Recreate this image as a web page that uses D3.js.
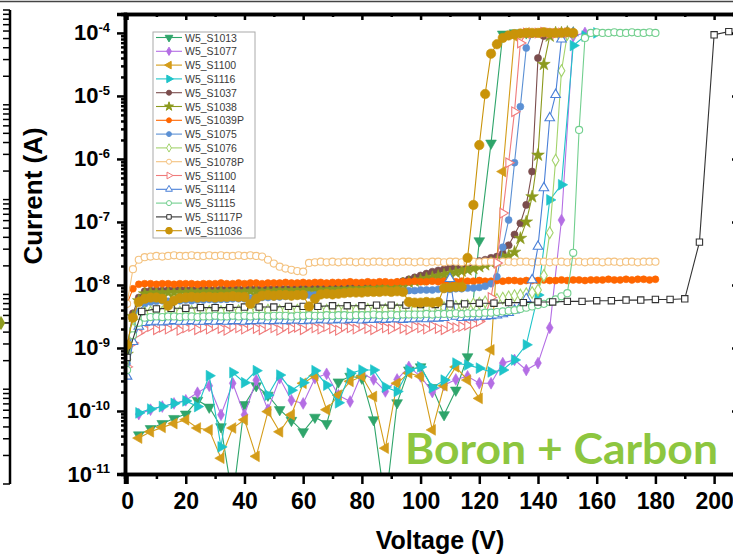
<!DOCTYPE html>
<html>
<head>
<meta charset="utf-8">
<script src="https://cdn.jsdelivr.net/npm/d3@7"></script>
<style>
  body { margin: 0; background: #fff; }
  svg { display: block; }
</style>
</head>
<body>
<svg id="chart" width="733" height="556"></svg>
<script>
// voltage sweeps (V)
var v2 = [0,2,4,6,8,10,12,14,16,18,20,22,24,26,28,30,32,34,36,38,40,42,44,46,48,50,52,54,56,58,
  60,62,64,66,68,70,72,74,76,78,80,82,84,86,88,90,92,94,96,98,100,102,104,106,108,110,112,114,116,118,
  120,122,124,126,128,130,132,134,136,138,140,142,144,146,148,150,152,154,156,158,160,162,164,166,168,170,
  172,174,176,178,180];
var v4 = [4,8,12,16,20,24,28,32,36,40,44,48,52,56,60,64,68,72,76,80,84,88,92,96,100,104,108,112,116,120,
  124,128,132,136,140,144,148,152,156,160];
var v5 = [0,5,10,15,20,25,30,35,40,45,50,55,60,65,70,75,80,85,90,95,100,105,110,115,120,125,130,135,140,145,
  150,155,160,165,170,175,180,185,190,195,200,205];

// currents, log10(A)
var s1013 = [-10.38,-10.28,-10.20,-10.12,-10.05,-9.83,-9.94,-10.25,-11.40,-9.90,
  -9.60,-9.75,-9.98,-10.15,-10.33,-10.10,-10.20,-9.54,-9.45,-9.48,
  -10.14,-11.50,-9.87,-9.35,-9.30,-9.63,-10.06,-9.67,-9.14,-7.30,
  -5.75,-4.02,-4.00,-4.00];
var s1077 = [-10.05,-9.98,-9.93,-9.88,-9.83,-9.71,-9.60,-10.06,-9.56,-10.06,
  -9.51,-9.98,-9.48,-9.83,-9.88,-9.48,-9.41,-9.75,-9.85,-9.40,
  -9.50,-9.69,-9.50,-9.30,-9.45,-9.70,-9.59,-9.50,-9.45,-9.56,
  -9.56,-9.24,-9.19,-9.35,-9.24,-8.68,-6.97,-4.05,-4.00];
var s1100 = [-10.43,-10.33,-10.26,-10.20,-10.14,-10.27,-10.30,-10.75,-10.27,-10.14,
  -10.72,-10.01,-10.33,-10.06,-9.56,-9.44,-9.98,-9.75,-9.53,-9.45,
  -9.77,-10.59,-9.56,-9.40,-9.45,-10.30,-9.60,-9.30,-9.51,-9.80,
  -9.03,-6.20,-4.05,-4.00,-4.00];
var s1116 = [-10.03,-9.97,-9.93,-9.88,-9.84,-9.93,-9.44,-10.57,-9.39,-9.55,
  -9.36,-9.75,-9.43,-9.67,-9.55,-9.36,-9.59,-9.87,-9.40,-9.35,
  -9.35,-9.62,-9.69,-9.35,-9.30,-9.63,-9.51,-9.24,-9.27,-9.32,
  -9.38,-9.35,-9.19,-8.95,-8.16,-6.65,-6.41,-4.20,-4.05,-4.00];
var s1037 = [-9.00,-8.45,-8.20,-8.10,-8.09,-8.08,-8.09,-8.08,-8.08,-8.07,
  -8.08,-8.07,-8.08,-8.07,-8.07,-8.08,-8.07,-8.07,-8.06,-8.07,
  -8.07,-8.06,-8.07,-8.06,-8.06,-8.06,-8.05,-8.06,-8.05,-8.05,
  -8.05,-8.05,-8.04,-8.05,-8.04,-8.04,-8.03,-8.04,-8.03,-8.03,
  -8.02,-8.02,-8.01,-8.01,-8.00,-7.99,-7.97,-7.94,-7.91,-7.88,
  -7.85,-7.82,-7.79,-7.77,-7.75,-7.73,-7.71,-7.69,-7.67,-7.65,
  -7.62,-7.60,-7.57,-7.55,-7.50,-7.37,-7.20,-7.02,-6.73,-6.20,
  -4.40,-4.05,-4.00,-4.00,-3.99,-4.00];
var s1038 = [-9.10,-8.50,-8.25,-8.14,-8.13,-8.12,-8.13,-8.12,-8.12,-8.12,
  -8.12,-8.11,-8.12,-8.11,-8.11,-8.12,-8.11,-8.11,-8.10,-8.11,
  -8.11,-8.10,-8.10,-8.11,-8.10,-8.10,-8.09,-8.10,-8.09,-8.09,
  -8.09,-8.08,-8.09,-8.08,-8.08,-8.07,-8.08,-8.07,-8.07,-8.06,
  -8.06,-8.05,-8.05,-8.04,-8.03,-8.02,-8.00,-7.98,-7.96,-7.94,
  -7.92,-7.90,-7.88,-7.86,-7.84,-7.82,-7.80,-7.78,-7.76,-7.74,
  -7.71,-7.68,-7.65,-7.62,-7.58,-7.54,-7.48,-7.26,-7.00,-6.60,
  -5.94,-4.50,-4.05,-4.00,-4.00,-3.99];
var s1039p = [-8.30,-8.06,-7.99,-7.98,-7.98,-7.99,-7.98,-7.98,-7.99,-7.98,
  -7.98,-7.98,-7.99,-7.98,-7.98,-7.98,-7.97,-7.98,-7.98,-7.97,
  -7.98,-7.97,-7.97,-7.98,-7.97,-7.97,-7.97,-7.96,-7.97,-7.97,
  -7.96,-7.97,-7.96,-7.96,-7.97,-7.96,-7.96,-7.96,-7.95,-7.96,
  -7.96,-7.95,-7.96,-7.95,-7.95,-7.96,-7.95,-7.95,-7.95,-7.94,
  -7.95,-7.95,-7.94,-7.95,-7.94,-7.94,-7.95,-7.94,-7.94,-7.94,
  -7.93,-7.94,-7.94,-7.93,-7.94,-7.93,-7.93,-7.94,-7.93,-7.93,
  -7.93,-7.92,-7.93,-7.93,-7.92,-7.93,-7.92,-7.92,-7.93,-7.92,
  -7.92,-7.92,-7.91,-7.92,-7.92,-7.91,-7.92,-7.91,-7.91,-7.92,
  -7.91];
var s1075 = [-9.25,-8.70,-8.42,-8.30,-8.27,-8.26,-8.25,-8.26,-8.25,-8.25,
  -8.24,-8.25,-8.24,-8.24,-8.23,-8.24,-8.23,-8.23,-8.22,-8.22,
  -8.22,-8.21,-8.21,-8.20,-8.20,-8.19,-8.19,-8.18,-8.18,-8.17,
  -8.17,-8.16,-8.16,-8.15,-8.15,-8.14,-8.14,-8.13,-8.13,-8.12,
  -8.12,-8.12,-8.11,-8.11,-8.10,-8.10,-8.10,-8.09,-8.09,-8.09,
  -8.08,-8.08,-8.08,-8.07,-8.07,-8.07,-8.06,-8.06,-8.05,-8.05,
  -8.04,-8.02,-7.98,-7.87,-7.40,-6.97,-6.06,-5.17,-4.24,-4.02,
  -4.00,-4.00,-3.99,-4.00,-4.00,-4.00];
var s1076 = [-9.20,-8.70,-8.50,-8.44,-8.43,-8.42,-8.43,-8.42,-8.42,-8.43,
  -8.42,-8.42,-8.41,-8.42,-8.42,-8.41,-8.42,-8.41,-8.42,-8.41,
  -8.41,-8.42,-8.41,-8.41,-8.40,-8.41,-8.41,-8.40,-8.41,-8.40,
  -8.40,-8.40,-8.41,-8.40,-8.40,-8.39,-8.40,-8.40,-8.39,-8.40,
  -8.39,-8.39,-8.40,-8.39,-8.39,-8.38,-8.39,-8.38,-8.38,-8.38,
  -8.38,-8.37,-8.37,-8.36,-8.36,-8.35,-8.34,-8.33,-8.32,-8.30,
  -8.29,-8.27,-8.25,-8.23,-8.21,-8.19,-8.17,-8.16,-8.14,-8.12,
  -8.08,-7.85,-7.17,-6.02,-4.60,-4.02,-4.00];
var s1078p = [-8.30,-7.75,-7.60,-7.56,-7.55,-7.54,-7.55,-7.54,-7.53,-7.54,
  -7.54,-7.53,-7.54,-7.54,-7.53,-7.54,-7.53,-7.54,-7.54,-7.53,
  -7.54,-7.53,-7.54,-7.55,-7.60,-7.66,-7.71,-7.74,-7.76,-7.78,
  -7.79,-7.65,-7.64,-7.63,-7.64,-7.63,-7.64,-7.63,-7.63,-7.64,
  -7.63,-7.64,-7.63,-7.63,-7.64,-7.63,-7.64,-7.63,-7.63,-7.64,
  -7.63,-7.64,-7.63,-7.63,-7.64,-7.63,-7.63,-7.64,-7.63,-7.63,
  -7.64,-7.63,-7.63,-7.64,-7.63,-7.63,-7.64,-7.63,-7.63,-7.64,
  -7.63,-7.63,-7.64,-7.63,-7.63,-7.64,-7.63,-7.63,-7.64,-7.63,
  -7.63,-7.64,-7.63,-7.63,-7.64,-7.63,-7.63,-7.64,-7.63,-7.63,
  -7.63];
var s1100b = [-9.30,-8.92,-8.76,-8.70,-8.66,-8.71,-8.67,-8.70,-8.65,-8.72,
  -8.68,-8.66,-8.71,-8.67,-8.70,-8.65,-8.69,-8.72,-8.66,-8.68,
  -8.70,-8.65,-8.69,-8.71,-8.66,-8.68,-8.72,-8.66,-8.69,-8.67,
  -8.71,-8.65,-8.68,-8.70,-8.66,-8.69,-8.72,-8.66,-8.68,-8.70,
  -8.65,-8.69,-8.71,-8.66,-8.68,-8.70,-8.65,-8.69,-8.71,-8.66,
  -8.68,-8.70,-8.65,-8.69,-8.71,-8.66,-8.68,-8.66,-8.64,-8.62,
  -8.58,-8.50,-8.20,-7.65,-6.86,-6.06,-5.25,-4.16,-4.00,-4.01,
  -4.00,-3.99,-4.00,-4.01,-4.00,-4.00];
var s1114 = [-9.45,-8.90,-8.66,-8.60,-8.59,-8.58,-8.59,-8.58,-8.57,-8.58,
  -8.58,-8.57,-8.58,-8.58,-8.57,-8.58,-8.57,-8.58,-8.57,-8.57,
  -8.58,-8.57,-8.57,-8.56,-8.57,-8.57,-8.56,-8.57,-8.56,-8.56,
  -8.57,-8.56,-8.56,-8.55,-8.56,-8.56,-8.55,-8.56,-8.55,-8.55,
  -8.56,-8.55,-8.55,-8.54,-8.55,-8.54,-8.54,-8.55,-8.54,-8.54,
  -8.53,-8.54,-8.53,-8.53,-8.52,-7.90,-8.50,-8.52,-8.51,-8.51,
  -8.50,-8.50,-8.49,-8.48,-8.46,-8.44,-8.40,-8.35,-8.22,-7.92,
  -7.39,-6.46,-5.35,-4.98,-4.10,-4.00,-4.00];
var s1115 = [-9.35,-8.80,-8.60,-8.52,-8.51,-8.50,-8.51,-8.50,-8.50,-8.51,
  -8.50,-8.50,-8.51,-8.50,-8.50,-8.49,-8.50,-8.50,-8.49,-8.50,
  -8.49,-8.50,-8.49,-8.49,-8.50,-8.49,-8.49,-8.49,-8.50,-8.49,
  -8.49,-8.48,-8.49,-8.49,-8.48,-8.49,-8.48,-8.48,-8.49,-8.48,
  -8.48,-8.48,-8.47,-8.48,-8.48,-8.47,-8.48,-8.47,-8.47,-8.47,
  -8.47,-8.46,-8.47,-8.46,-8.46,-8.46,-8.45,-8.46,-8.45,-8.45,
  -8.45,-8.44,-8.44,-8.43,-8.42,-8.41,-8.40,-8.38,-8.36,-8.34,
  -8.32,-8.30,-8.27,-8.23,-8.18,-8.13,-7.49,-5.54,-4.08,-4.00,
  -3.99,-4.00,-4.00,-3.99,-4.00,-4.00,-3.99,-4.00,-4.00,-3.99,
  -4.00];
var s1117p = [-9.15,-8.42,-8.38,-8.37,-8.37,-8.36,-8.36,-8.36,-8.35,-8.35,
  -8.35,-8.34,-8.34,-8.34,-8.33,-8.33,-8.33,-8.32,-8.32,-8.32,
  -8.31,-8.31,-8.30,-8.30,-8.29,-8.29,-8.28,-8.28,-8.27,-8.27,
  -8.26,-8.26,-8.25,-8.25,-8.24,-8.24,-8.23,-8.23,-8.22,-7.32,
  -4.03,-3.98];
var s11036 = [-8.95,-8.52,-8.27,-8.22,-8.20,-8.20,-8.22,-8.33,-8.25,-8.21,
  -8.20,-8.19,-8.20,-8.19,-8.19,-8.20,-8.19,-8.19,-8.18,-8.19,
  -8.19,-8.30,-8.22,-8.17,-8.16,-8.17,-8.16,-8.16,-8.17,-8.16,
  -8.16,-8.34,-8.22,-8.15,-8.14,-8.15,-8.14,-8.13,-8.12,-8.12,
  -8.12,-8.11,-8.11,-8.11,-8.10,-8.11,-8.10,-8.11,-8.27,-8.28,
  -8.28,-8.27,-8.28,-8.27,-8.05,-8.04,-8.03,-8.03,-7.57,-6.73,
  -5.78,-4.97,-4.33,-4.18,-4.08,-4.04,-4.02,-4.01,-4.00,-4.00,
  -4.00,-3.99,-4.00,-4.00,-4.00,-3.99,-4.00];

var names = ['W5_S1013','W5_S1077','W5_S1100','W5_S1116','W5_S1037','W5_S1038','W5_S1039P','W5_S1075',
  'W5_S1076','W5_S1078P','W5_S1100','W5_S1114','W5_S1115','W5_S1117P','W5_S11036'];
var sweeps = [v4, v4, v4, v4, v2, v2, v2, v2, v2, v2, v2, v2, v2, v5, v2];
var currents = [s1013, s1077, s1100, s1116, s1037, s1038, s1039p, s1075, s1076, s1078p, s1100b, s1114, s1115, s1117p, s11036];
var xTicks = [0,20,40,60,80,100,120,140,160,180,200];
var yExp = [-11,-10,-9,-8,-7,-6,-5,-4];

// look of each series (same order as names)
var colors = ['#2fa56b','#b46ee4','#d49c19','#1ec4c9','#7b4d4d','#8c9a1e','#ff6600','#5b90d4',
  '#a3d36c','#f4c27f','#f07b7b','#4a80d8','#72cf8e','#333333','#c99309'];
var shapes = ['tri','diamond','tri','tri','circle','star','circle','circle',
  'diamond','circle','tri','tri','circle','square','circle'];
var turns = [180,0,-90,90,0,0,0,0,0,0,90,0,0,0,0];
var filled = [1,1,1,1,1,1,1,1,0,0,0,0,0,0,1];
var sizes = [50,40,50,50,40,50,38,38,40,40,40,40,40,40,70];

var svg = d3.select('#chart');
var x = d3.scaleLinear().domain([-0.7, 209.5]).range([125, 742]);
var y = d3.scaleLog().domain([1e-11, Math.pow(10, -3.7)]).range([474, 14]);

var symType = {tri: d3.symbolTriangle, diamond: d3.symbolDiamond, circle: d3.symbolCircle,
  star: d3.symbolStar, square: d3.symbolSquare};

// bits of the neighbouring panel and page edge
svg.append('line').attr('x1', 0).attr('x2', 733).attr('y1', 1.5).attr('y2', 1.5)
  .attr('stroke', '#444').attr('stroke-width', 1.5);
var side = svg.append('g');
side.append('line').attr('x1', 10).attr('x2', 10).attr('y1', 10).attr('y2', 484)
  .attr('stroke', '#000').attr('stroke-width', 2.5);
var ys = d3.scaleLog().domain([1e-9, 1e-4]).range([484, 10]);
side.selectAll('.st').data(ys.ticks()).enter().append('line')
  .attr('x1', 3).attr('x2', 10).attr('y1', d => ys(d)).attr('y2', d => ys(d))
  .attr('stroke', '#000').attr('stroke-width', 1.5);
side.append('path').attr('d', d3.symbol().type(d3.symbolDiamond).size(60)())
  .attr('transform', 'translate(1,323)').attr('fill', '#8c9a1e');

svg.append('defs').append('clipPath').attr('id', 'plotclip')
  .append('rect').attr('x', 125).attr('y', 14).attr('width', 617).attr('height', 460);

var plot = svg.append('g').attr('clip-path', 'url(#plotclip)');
var line = d3.line().x(d => x(d.v)).y(d => y(d.i));

currents.forEach(function(arr, k) {
  var pts = arr.map((e, i) => ({v: sweeps[k][i], i: Math.pow(10, e)}));
  var g = plot.append('g');
  g.append('path').datum(pts).attr('d', line)
    .attr('fill', 'none').attr('stroke', colors[k]).attr('stroke-width', 1.1);
  var sym = d3.symbol().type(symType[shapes[k]]).size(sizes[k]);
  g.selectAll('path.m').data(pts).enter().append('path').attr('class', 'm')
    .attr('d', sym)
    .attr('transform', d => 'translate(' + x(d.v) + ',' + y(d.i) + ') rotate(' + turns[k] + ')')
    .attr('fill', filled[k] ? colors[k] : '#fff')
    .attr('stroke', colors[k]).attr('stroke-width', filled[k] ? 0.6 : 1.1);
});

// frame
var minorX = d3.range(10, 210, 20);
var majorsY = yExp.map(e => Math.pow(10, e));
var minorsY = [];
yExp.slice(0, -1).forEach(function(e) { for (var m = 2; m < 10; m++) minorsY.push(m * Math.pow(10, e)); });
minorsY.push(2e-4);

function styleAxis(g) {
  g.select('.domain').attr('stroke-width', 3.5);
  g.selectAll('.tick line').attr('stroke-width', 2.5);
}

svg.append('g').attr('transform', 'translate(0,14)')
  .call(d3.axisTop(x).tickValues(xTicks).tickSize(-6).tickFormat('')).call(styleAxis);
svg.append('g').attr('transform', 'translate(0,14)')
  .call(d3.axisTop(x).tickValues(minorX).tickSize(-3).tickFormat('')).call(styleAxis);
svg.append('g').attr('transform', 'translate(742,0)')
  .call(d3.axisRight(y).tickValues(majorsY).tickSize(-10).tickFormat('')).call(styleAxis);

var xa = svg.append('g').attr('transform', 'translate(0,474)')
  .call(d3.axisBottom(x).tickValues(xTicks).tickSize(10).tickPadding(9).tickFormat(d3.format('d')))
  .call(styleAxis);
xa.selectAll('text').attr('font-family', 'Liberation Sans, Arial, sans-serif')
  .attr('font-weight', 'bold').attr('font-size', 23).attr('fill', '#000');
svg.append('g').attr('transform', 'translate(0,474)')
  .call(d3.axisBottom(x).tickValues(minorX).tickSize(5).tickFormat('')).call(styleAxis);

svg.append('g').attr('transform', 'translate(125,0)')
  .call(d3.axisLeft(y).tickValues(majorsY).tickSize(8).tickFormat('')).call(styleAxis);
svg.append('g').attr('transform', 'translate(125,0)')
  .call(d3.axisLeft(y).tickValues(minorsY).tickSize(4).tickFormat('')).call(styleAxis);

var yl = svg.append('g').attr('font-family', 'Liberation Sans, Arial, sans-serif')
  .attr('font-weight', 'bold').attr('fill', '#000');
yExp.forEach(function(e) {
  var t = yl.append('text').attr('x', 110).attr('y', y(Math.pow(10, e)) + 7.5)
    .attr('text-anchor', 'end');
  t.append('tspan').attr('font-size', 22).text('10');
  t.append('tspan').attr('font-size', 13).attr('dy', -8.5).text(String(e));
});

svg.append('text').attr('x', 440).attr('y', 549).attr('text-anchor', 'middle')
  .attr('font-family', 'Liberation Sans, Arial, sans-serif').attr('font-weight', 'bold')
  .attr('font-size', 25).text('Voltage (V)');
svg.append('text').attr('transform', 'translate(42,196) rotate(-90)').attr('text-anchor', 'middle')
  .attr('font-family', 'Liberation Sans, Arial, sans-serif').attr('font-weight', 'bold')
  .attr('font-size', 26).text('Current (A)');

// legend
var lg = svg.append('g').attr('transform', 'translate(153,32)');
lg.append('rect').attr('width', 102).attr('height', 206).attr('fill', '#fff')
  .attr('stroke', '#aaa').attr('stroke-width', 1);
names.forEach(function(n, k) {
  var ry = 5.5 + k * 13.8;
  lg.append('line').attr('x1', 3).attr('x2', 29).attr('y1', ry).attr('y2', ry)
    .attr('stroke', colors[k]).attr('stroke-width', 1.1);
  lg.append('path').attr('d', d3.symbol().type(symType[shapes[k]]).size(sizes[k] * 0.5)())
    .attr('transform', 'translate(16,' + ry + ') rotate(' + turns[k] + ')')
    .attr('fill', filled[k] ? colors[k] : '#fff').attr('stroke', colors[k]).attr('stroke-width', 1);
  lg.append('text').attr('x', 32).attr('y', ry + 4).attr('font-size', 10.5)
    .attr('font-family', 'Liberation Sans, Arial, sans-serif').attr('fill', '#3a3a3a').text(n);
});

svg.append('text').attr('x', 405).attr('y', 464)
  .attr('font-family', 'Lato, sans-serif').attr('font-weight', 'bold').attr('font-size', 42)
  .attr('textLength', 313).attr('lengthAdjust', 'spacingAndGlyphs')
  .attr('fill', '#8dc63f').text('Boron + Carbon');
</script>
</body>
</html>
